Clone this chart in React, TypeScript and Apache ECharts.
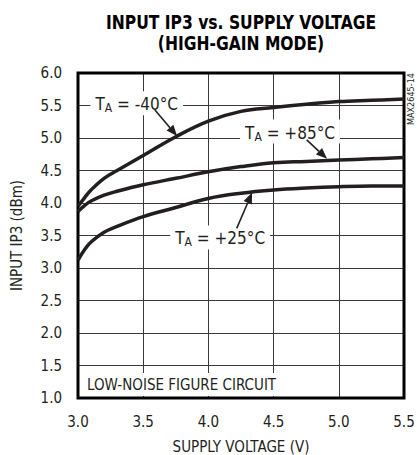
import React, { useEffect, useRef } from "react";
import * as echarts from "echarts";

const supplyVoltage = [3.0, 3.05, 3.1, 3.2, 3.3, 3.5, 3.75, 4.0, 4.25, 4.5, 4.75, 5.0, 5.25, 5.5];
const ip3Minus40 = [3.95, 4.08, 4.2, 4.38, 4.5, 4.73, 5.02, 5.26, 5.41, 5.47, 5.52, 5.56, 5.58, 5.6];
const ip3Plus85 = [3.87, 3.96, 4.03, 4.12, 4.18, 4.28, 4.38, 4.48, 4.56, 4.62, 4.64, 4.66, 4.68, 4.7];
const ip3Plus25 = [3.12, 3.28, 3.4, 3.55, 3.64, 3.79, 3.93, 4.07, 4.15, 4.2, 4.23, 4.25, 4.26, 4.26];

const xTicks = [3.0, 3.5, 4.0, 4.5, 5.0, 5.5];
const yTicks = [1.0, 1.5, 2.0, 2.5, 3.0, 3.5, 4.0, 4.5, 5.0, 5.5, 6.0];

// annotations in data coordinates: label anchor and arrow (from -> to)
const annotations = [
  { temp: "-40°C", label: [3.45, 5.535], from: [3.59, 5.43], to: [3.76, 5.03] },
  { temp: "+85°C", label: [4.626, 5.1], from: [4.754, 4.97], to: [4.91, 4.68] },
  { temp: "+25°C", label: [4.09, 3.47], from: [4.217, 3.61], to: [4.335, 4.16] },
];

const FONT = "'Liberation Sans Narrow', 'Arial Narrow', 'DejaVu Sans Condensed', sans-serif";
const INK = "#231f20";

export default function App() {
  const ref = useRef<HTMLDivElement>(null);
  useEffect(() => {
    if (!ref.current) return;
    const chart = echarts.init(ref.current, null, { renderer: "svg" });
    const mk = (vals: number[]) => supplyVoltage.map((v, i) => [v, vals[i]]);
    const lineStyle = { color: INK, width: 3.5 };
    chart.setOption({
      animation: false,
      backgroundColor: "#fff",
      grid: {
        left: 78,
        right: 13,
        top: 73,
        bottom: 57,
        show: true,
        borderColor: "#000",
        borderWidth: 3,
        z: 3,
        containLabel: false,
        outerBoundsMode: "none",
      },
      xAxis: {
        type: "value",
        min: xTicks[0],
        max: xTicks[xTicks.length - 1],
        interval: 0.5,
        name: "SUPPLY VOLTAGE (V)",
        nameLocation: "middle",
        nameGap: 41,
        nameTextStyle: { fontFamily: FONT, fontSize: 15, color: INK },
        axisLine: { show: false },
        axisTick: { show: false },
        axisLabel: {
          margin: 16,
          fontFamily: FONT,
          fontSize: 15,
          color: INK,
          formatter: (v: number) => v.toFixed(1),
        },
        splitLine: { show: true, lineStyle: { color: "#3a3a3a", width: 1 } },
      },
      yAxis: {
        type: "value",
        min: yTicks[0],
        max: yTicks[yTicks.length - 1],
        interval: 0.5,
        name: "INPUT IP3 (dBm)",
        nameLocation: "middle",
        nameGap: 54,
        nameTextStyle: { fontFamily: FONT, fontSize: 15, color: INK },
        axisLine: { show: false },
        axisTick: { show: false },
        axisLabel: {
          margin: 16,
          fontFamily: FONT,
          fontSize: 15,
          color: INK,
          formatter: (v: number) => v.toFixed(1),
        },
        splitLine: { show: true, lineStyle: { color: "#3a3a3a", width: 1 } },
      },
      series: [
        { type: "line", data: mk(ip3Minus40), smooth: 0.4, showSymbol: false, lineStyle, z: 5 },
        { type: "line", data: mk(ip3Plus85), smooth: 0.4, showSymbol: false, lineStyle, z: 5 },
        { type: "line", data: mk(ip3Plus25), smooth: 0.4, showSymbol: false, lineStyle, z: 5 },
      ],
    });

    const px = (p: number[]) => chart.convertToPixel({ gridIndex: 0 }, p) as number[];
    const graphics: any[] = [
      {
        type: "text",
        x: 241,
        y: 12,
        scaleX: 0.91,
        z: 20,
        style: {
          text: "INPUT IP3 vs. SUPPLY VOLTAGE\n(HIGH-GAIN MODE)",
          fontFamily: FONT,
          fontWeight: "bold",
          fontSize: 19,
          lineHeight: 21,
          fill: "#000",
          align: "center",
          verticalAlign: "top",
        },
      },
      {
        type: "text",
        x: 411,
        y: 99,
        rotation: Math.PI / 2,
        z: 20,
        style: {
          text: "MAX2645-14",
          fontFamily: FONT,
          fontSize: 9,
          fill: INK,
          align: "center",
          verticalAlign: "middle",
        },
      },
    ];
    const lowPos = px([3.0, 1.0]);
    graphics.push({
      type: "rect",
      z: 10,
      shape: { x: lowPos[0] + 5, y: lowPos[1] - 25, width: 197, height: 23 },
      style: { fill: "#fff" },
    });
    graphics.push({
      type: "text",
      x: lowPos[0] + 9,
      y: lowPos[1] - 13,
      z: 11,
      style: {
        text: "LOW-NOISE FIGURE CIRCUIT",
        fontFamily: FONT,
        fontSize: 15,
        fill: INK,
        align: "left",
        verticalAlign: "middle",
      },
    });
    annotations.forEach((a) => {
      const lp = px(a.label);
      graphics.push({
        type: "text",
        x: lp[0],
        y: lp[1],
        z: 11,
        style: {
          text: "{m|T}{s|A}{m| = " + a.temp + "}",
          fontFamily: FONT,
          fill: INK,
          align: "center",
          verticalAlign: "middle",
          backgroundColor: "#fff",
          padding: [3, 5, 1, 5],
          rich: {
            m: { fontFamily: FONT, fontSize: 17, fill: INK, color: INK, lineHeight: 20, verticalAlign: "middle" },
            s: { fontFamily: FONT, fontSize: 12, fill: INK, color: INK, lineHeight: 20, verticalAlign: "bottom" },
          },
        },
      });
      const f = px(a.from);
      const t = px(a.to);
      const dx = t[0] - f[0];
      const dy = t[1] - f[1];
      const len = Math.sqrt(dx * dx + dy * dy);
      const ux = dx / len;
      const uy = dy / len;
      const headL = 11;
      const headW = 4.5;
      const bx = t[0] - ux * headL;
      const by = t[1] - uy * headL;
      graphics.push({
        type: "line",
        z: 12,
        shape: { x1: f[0], y1: f[1], x2: bx, y2: by },
        style: { stroke: INK, lineWidth: 1.6 },
      });
      graphics.push({
        type: "polygon",
        z: 12,
        shape: {
          points: [
            [t[0], t[1]],
            [bx - uy * headW, by + ux * headW],
            [bx + uy * headW, by - ux * headW],
          ],
        },
        style: { fill: INK },
      });
    });
    chart.setOption({ graphic: graphics });
    return () => chart.dispose();
  }, []);
  return (
    <div
      ref={ref}
      style={{ position: "fixed", left: 0, top: 0, width: 417, height: 455 }}
    />
  );
}
